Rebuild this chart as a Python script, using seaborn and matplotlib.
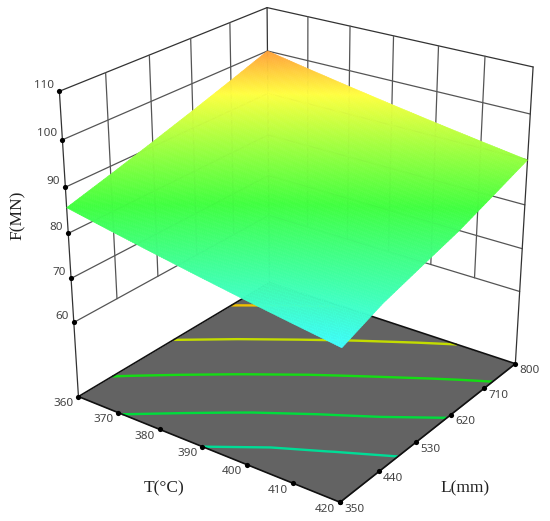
import numpy as np
import matplotlib
matplotlib.use('Agg')
import matplotlib.pyplot as plt
from matplotlib.colors import LinearSegmentedColormap, Normalize
from mpl_toolkits.mplot3d import proj3d
import seaborn as sns

# values
T_ticks = [360, 370, 380, 390, 400, 410, 420]
L_ticks = [350, 440, 530, 620, 710, 800]
F_ticks = [60, 70, 80, 90, 100, 110]
F_floor = 42.591

# F(MN), one row per T tick, one column per L tick
F_values = [
    [85.60, 88.27, 91.05, 93.93, 96.91, 100.00],
    [83.73, 86.41, 89.19, 92.07, 95.06, 98.15],
    [81.95, 84.63, 87.41, 90.30, 93.29, 96.38],
    [80.23, 82.91, 85.69, 88.58, 91.58, 94.68],
    [78.57, 81.40, 84.15, 87.00, 89.94, 93.04],
    [77.01, 80.10, 82.75, 85.45, 88.38, 91.49],
    [75.50, 79.00, 81.45, 83.85, 86.89, 90.00],
]
contour_levels = [80.23, 83.56, 87.73, 92.0, 96.6]
contour_colors = ['#00dc96', '#00dc3c', '#14dc14', '#c3dc00', '#f0c000']

# colour scale of the surface: F value and colour
scale_values = [75.5, 85.6, 95.5, 100.0]
scale_colors = ['#40ffff', '#40ff40', '#ffff40', '#ffa03c']

sns.set_theme(style='white')
plt.rcParams['font.family'] = ['Noto Sans', 'DejaVu Sans']

T_ticks = np.array(T_ticks)
L_ticks = np.array(L_ticks)
F_values = np.array(F_values)
T0, T1 = T_ticks[0], T_ticks[-1]
L0, L1 = L_ticks[0], L_ticks[-1]

norm = Normalize(scale_values[0], scale_values[-1])
cmap = LinearSegmentedColormap.from_list(
    'surf', [(float(norm(v)), c) for v, c in zip(scale_values, scale_colors)], N=512)

fig = plt.figure(figsize=(5.5, 5.21), dpi=100)
ax = fig.add_axes([18.26 / 550, 3.13 / 521, 1, 550 / 521], projection='3d',
                  computed_zorder=False)
ax.set_axis_off()
ax.patch.set_alpha(0)


def line3(xs, ys, zs, color='#555555', lw=0.9, z=1):
    ax.plot(xs, ys, zs, color=color, lw=lw, zorder=z, solid_capstyle='round')


# walls
for f in F_ticks:
    c = '#333333' if f == F_ticks[-1] else '#555555'
    line3([T0, T0], [L0, L1], [f, f], color=c)
    line3([T0, T1], [L1, L1], [f, f], color=c)
for l in L_ticks[1:-1]:
    line3([T0, T0], [l, l], [F_ticks[0], F_ticks[-1]])
for t in T_ticks[1:-1]:
    line3([t, t], [L1, L1], [F_ticks[0], F_ticks[-1]])
line3([T0, T0], [L0, L0], [F_floor, F_ticks[-1]], color='#333333')
line3([T1, T1], [L1, L1], [F_floor, F_ticks[-1]], color='#333333')
line3([T0, T0], [L1, L1], [F_floor, F_ticks[-1]], color='#333333')

# floor
TT, LL = np.meshgrid(T_ticks, L_ticks, indexing='ij')
ax.plot_surface(np.array([[T0, T0], [T1, T1]]), np.array([[L0, L1], [L0, L1]]),
                np.full((2, 2), F_floor), color='#636363', shade=False, linewidth=0, zorder=2)
cs = ax.contour(TT, LL, F_values, levels=contour_levels, colors=contour_colors,
                linewidths=1.7, zdir='z', offset=F_floor)
cs.set_zorder(3)
for xs, ys in [([T0, T1], [L0, L0]), ([T1, T1], [L0, L1]), ([T0, T1], [L1, L1]), ([T0, T0], [L0, L1])]:
    line3(xs, ys, [F_floor, F_floor], color='#111111', lw=1.2, z=4)

# the table is split into small facets only so the colour runs smoothly over the surface
fine_T = np.linspace(0, len(T_ticks) - 1, 121)
fine_L = np.linspace(0, len(L_ticks) - 1, 121)
it = np.minimum(fine_T.astype(int), len(T_ticks) - 2)
il = np.minimum(fine_L.astype(int), len(L_ticks) - 2)
wt = (fine_T - it)[:, None]
wl = (fine_L - il)[None, :]
fine_F = ((1 - wt) * (1 - wl) * F_values[np.ix_(it, il)] + wt * (1 - wl) * F_values[np.ix_(it + 1, il)]
          + (1 - wt) * wl * F_values[np.ix_(it, il + 1)] + wt * wl * F_values[np.ix_(it + 1, il + 1)])
fine_TT, fine_LL = np.meshgrid(np.interp(fine_T, np.arange(len(T_ticks)), T_ticks),
                               np.interp(fine_L, np.arange(len(L_ticks)), L_ticks), indexing='ij')
ax.plot_surface(fine_TT, fine_LL, fine_F, facecolors=cmap(norm(fine_F)), rstride=1, cstride=1,
                shade=False, linewidth=0.4, antialiased=True, zorder=5)

# tick dots
dot = dict(color='black', s=14, depthshade=False, zorder=6, linewidths=0)
ax.scatter(np.full(len(F_ticks), T0), np.full(len(F_ticks), L0), F_ticks, **dot)
ax.scatter(T_ticks, np.full(len(T_ticks), L0), np.full(len(T_ticks), F_floor), **dot)
ax.scatter(np.full(len(L_ticks), T1), L_ticks, np.full(len(L_ticks), F_floor), **dot)

ax.view_init(elev=24.901, azim=-53.845)
ax.set_proj_type('persp', focal_length=0.581)
ax.set_xlim(T0, T1)
ax.set_ylim(L0, L1)
ax.set_zlim(F_floor, F_ticks[-1])
ax.set_box_aspect((0.985, 0.977, 1))
M = ax.get_proj()


def tick_label(x, y, z, s, dx, dy, ha='center'):
    xp, yp, _ = proj3d.proj_transform(x, y, z, M)
    ax.annotate(s, xy=(xp, yp), xytext=(dx, dy), textcoords='offset pixels', ha=ha, va='center',
                fontsize=8.4, color='#444444', annotation_clip=False)


for f in F_ticks:
    tick_label(T0, L0, f, str(f), -5, 6, ha='right')
for t in T_ticks:
    tick_label(t, L0, F_floor, str(t), -15, -7)
for l in L_ticks:
    tick_label(T1, l, F_floor, str(l), 14, -7)

serif = dict(family='Liberation Serif', fontsize=12.5, color='#222222', ha='center', va='center')
fig.text(164 / 550, 1 - 488 / 521, 'T(°C)', **serif)
fig.text(465 / 550, 1 - 488 / 521, 'L(mm)', **serif)
fig.text(18 / 550, 1 - 215 / 521, 'F(MN)', rotation=90, **serif)

fig.savefig('out.png', dpi=100)
plt.close(fig)
